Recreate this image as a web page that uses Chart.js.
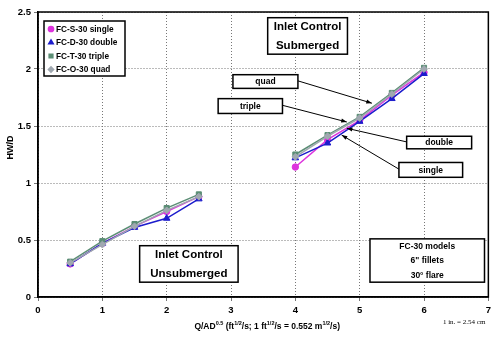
<!DOCTYPE html>
<html>
<head>
<meta charset="utf-8">
<script src="https://cdn.jsdelivr.net/npm/chart.js@4.4.1/dist/chart.umd.min.js"></script>
<style>
  html, body { margin: 0; padding: 0; background: #fff; }
  #wrap { width: 495px; height: 339px; }
</style>
</head>
<body>
<div id="wrap"><canvas id="myChart" width="495" height="339"></canvas></div>
<script>
// Q/AD^0.5 values, x=3 is only a gap between the two groups
var qValues = [0.5, 1, 1.5, 2, 2.5, 3, 4, 4.5, 5, 5.5, 6];
var singleHW = [0.29, 0.47, 0.62, 0.75, 0.88, null, 1.14, 1.38, 1.55, 1.77, 1.97];
var doubleHW = [0.29, 0.47, 0.61, 0.69, 0.86, null, 1.22, 1.35, 1.54, 1.74, 1.96];
var tripleHW = [0.31, 0.49, 0.64, 0.78, 0.90, null, 1.25, 1.42, 1.58, 1.79, 2.01];
var quadHW = [0.30, 0.46, 0.62, 0.76, 0.88, null, 1.23, 1.41, 1.57, 1.78, 2.00];
var seriesNames = ["FC-S-30 single", "FC-D-30 double", "FC-T-30 triple", "FC-O-30 quad"];
var xTicks = [0, 1, 2, 3, 4, 5, 6, 7];
var yTicks = [0, 0.5, 1, 1.5, 2, 2.5];

var FONT = "'Liberation Sans', Arial, sans-serif";

function pts(ys) {
    return qValues.map(function(q, i) { return {x: q, y: ys[i]}; });
}

var styles = [
    {color: "#dd33dd", point: "circle", radius: 3.2},
    {color: "#1c1ccc", point: "triangle", radius: 3.8},
    {color: "#5b8e75", point: "rect", radius: 3.6},
    {color: "#a0a8b0", point: "rectRot", radius: 3.4}
];
var allSeries = [singleHW, doubleHW, tripleHW, quadHW];
var drawOrder = [3, 2, 1, 0];

// annotation boxes, in data units
var textBoxes = [
    {x1: 3.57, x2: 4.81, y1: 2.45, y2: 2.13, lines: ["Inlet Control", "Submerged"], size: 11.5},
    {x1: 1.58, x2: 3.11, y1: 0.45, y2: 0.13, lines: ["Inlet Control", "Unsubmerged"], size: 11.5},
    {x1: 5.16, x2: 6.94, y1: 0.51, y2: 0.13, lines: ["FC-30 models", "6\" fillets", "30\u00b0 flare"], size: 8.5}
];
var labelBoxes = [
    {x1: 3.03, x2: 4.04, y1: 1.95, y2: 1.83, text: "quad", side: "right", tx: 5.19, ty: 1.70},
    {x1: 2.80, x2: 3.80, y1: 1.74, y2: 1.61, text: "triple", side: "right", tx: 4.80, ty: 1.535},
    {x1: 5.73, x2: 6.74, y1: 1.41, y2: 1.30, text: "double", side: "left", tx: 4.80, ty: 1.48},
    {x1: 5.61, x2: 6.60, y1: 1.18, y2: 1.05, text: "single", side: "left", tx: 4.72, ty: 1.42}
];

function arrow(ctx, x0, y0, x1, y1) {
    ctx.beginPath();
    ctx.moveTo(x0, y0);
    ctx.lineTo(x1, y1);
    ctx.stroke();
    var a = Math.atan2(y1 - y0, x1 - x0);
    ctx.beginPath();
    ctx.moveTo(x1, y1);
    ctx.lineTo(x1 - 6 * Math.cos(a - 0.35), y1 - 6 * Math.sin(a - 0.35));
    ctx.lineTo(x1 - 6 * Math.cos(a + 0.35), y1 - 6 * Math.sin(a + 0.35));
    ctx.closePath();
    ctx.fill();
}

var decor = {
    id: "decor",
    afterDatasetsDraw: function(chart) {
        var ctx = chart.ctx, a = chart.chartArea;
        var xs = chart.scales.x, ys = chart.scales.y;
        ctx.save();
        // plot frame
        ctx.strokeStyle = "#000";
        ctx.lineWidth = 1.5;
        ctx.strokeRect(a.left, a.top, a.right - a.left, a.bottom - a.top);

        // big text boxes
        textBoxes.forEach(function(b) {
            var l = xs.getPixelForValue(b.x1), r = xs.getPixelForValue(b.x2);
            var t = ys.getPixelForValue(b.y1), bt = ys.getPixelForValue(b.y2);
            ctx.fillStyle = "#fff";
            ctx.fillRect(l, t, r - l, bt - t);
            ctx.lineWidth = 1.5;
            ctx.strokeStyle = "#000";
            ctx.strokeRect(l, t, r - l, bt - t);
            ctx.fillStyle = "#000";
            ctx.font = "bold " + b.size + "px " + FONT;
            ctx.textAlign = "center";
            ctx.textBaseline = "middle";
            var lh = (bt - t) / b.lines.length;
            b.lines.forEach(function(s, i) {
                ctx.fillText(s, (l + r) / 2, t + lh * (i + 0.5) + 0.5);
            });
        });

        // leader labels with arrows
        labelBoxes.forEach(function(b) {
            var l = xs.getPixelForValue(b.x1), r = xs.getPixelForValue(b.x2);
            var t = ys.getPixelForValue(b.y1), bt = ys.getPixelForValue(b.y2);
            var sx = b.side === "right" ? r : l;
            var sy = t + (bt - t) * 0.45;
            ctx.strokeStyle = "#000";
            ctx.fillStyle = "#000";
            ctx.lineWidth = 1;
            arrow(ctx, sx, sy, xs.getPixelForValue(b.tx), ys.getPixelForValue(b.ty));
            ctx.fillStyle = "#fff";
            ctx.fillRect(l, t, r - l, bt - t);
            ctx.lineWidth = 1.5;
            ctx.strokeRect(l, t, r - l, bt - t);
            ctx.fillStyle = "#000";
            ctx.font = "bold 8.5px " + FONT;
            ctx.textAlign = "center";
            ctx.textBaseline = "middle";
            ctx.fillText(b.text, (l + r) / 2, (t + bt) / 2 + 0.5);
        });

        // legend box
        var lx = a.left + 6, ly = a.top + 9, lw = 81, lhgt = 55;
        ctx.fillStyle = "#fff";
        ctx.fillRect(lx, ly, lw, lhgt);
        ctx.lineWidth = 1.5;
        ctx.strokeStyle = "#000";
        ctx.strokeRect(lx, ly, lw, lhgt);
        ctx.font = "bold 8.3px " + FONT;
        ctx.textAlign = "left";
        ctx.textBaseline = "middle";
        seriesNames.forEach(function(name, i) {
            var yy = ly + 8 + i * 13.5;
            ctx.fillStyle = styles[i].color;
            ctx.strokeStyle = styles[i].color;
            Chart.helpers.drawPoint(ctx, {pointStyle: styles[i].point, radius: 2.6, borderWidth: 1, rotation: 0}, lx + 7, yy);
            ctx.fillStyle = "#000";
            ctx.fillText(name, lx + 12, yy + 0.5);
        });

        // y axis title
        ctx.save();
        ctx.translate(11, (a.top + a.bottom) / 2 - 7);
        ctx.rotate(-Math.PI / 2);
        ctx.font = "bold 9px " + FONT;
        ctx.textAlign = "center";
        ctx.textBaseline = "middle";
        ctx.fillStyle = "#000";
        ctx.fillText("HW/D", 0, 0);
        ctx.restore();

        // x axis title with superscripts
        var parts = [
            ["Q/AD", 0], ["0.5", 1], [" (ft", 0], ["1/2", 1], ["/s; 1 ft", 0], ["1/2", 1],
            ["/s = 0.552 m", 0], ["1/2", 1], ["/s)", 0]
        ];
        var mainF = "bold 8.5px " + FONT, supF = "bold 5.5px " + FONT;
        var total = 0;
        parts.forEach(function(p) {
            ctx.font = p[1] ? supF : mainF;
            total += ctx.measureText(p[0]).width;
        });
        var cx = (a.left + a.right) / 2 - total / 2 + 4, by = 329;
        ctx.textAlign = "left";
        ctx.textBaseline = "alphabetic";
        ctx.fillStyle = "#000";
        parts.forEach(function(p) {
            ctx.font = p[1] ? supF : mainF;
            ctx.fillText(p[0], cx, p[1] ? by - 4 : by);
            cx += ctx.measureText(p[0]).width;
        });

        // unit note
        ctx.font = "7px 'Liberation Serif', 'Times New Roman', serif";
        ctx.textAlign = "right";
        ctx.fillText("1 in. = 2.54 cm", a.right - 3, 324);
        ctx.restore();
    }
};

var config = {
    type: "line",
    data: {
        datasets: allSeries.map(function(ys, i) {
            return {
                label: seriesNames[i],
                data: pts(ys),
                borderColor: styles[i].color,
                backgroundColor: styles[i].color,
                pointStyle: styles[i].point,
                pointRadius: styles[i].radius,
                pointBorderWidth: 1,
                borderWidth: 1.5,
                spanGaps: false,
                tension: 0,
                order: drawOrder[i]
            };
        })
    },
    options: {
        responsive: false,
        animation: false,
        layout: {padding: {top: 12, right: 6, left: 0, bottom: 0}},
        plugins: {
            legend: {display: false},
            tooltip: {enabled: false}
        },
        scales: {
            x: {
                type: "linear",
                min: 0, max: 7,
                afterBuildTicks: function(s) { s.ticks = xTicks.map(function(v) { return {value: v}; }); },
                afterFit: function(s) { s.height = 42; },
                grid: {color: "#777", lineWidth: 1, tickLength: 4, drawOnChartArea: true},
                border: {display: true, color: "#000", width: 1.5, dash: [1, 2]},
                ticks: {color: "#000", font: {family: FONT, size: 9.5, weight: "bold"}, padding: 4, maxRotation: 0,
                    callback: function(v) { return String(v); }}
            },
            y: {
                min: 0, max: 2.5,
                afterBuildTicks: function(s) { s.ticks = yTicks.map(function(v) { return {value: v}; }); },
                afterFit: function(s) { s.width = 38; },
                grid: {color: "#777", lineWidth: 1, tickLength: 4},
                border: {display: true, color: "#000", width: 1.5, dash: [1, 2]},
                ticks: {color: "#000", font: {family: FONT, size: 9.5, weight: "bold"}, padding: 3,
                    callback: function(v) { return String(v); }}
            }
        }
    },
    plugins: [decor]
};

var ctx = document.getElementById("myChart").getContext("2d");
window.myLine = new Chart(ctx, config);
</script>
</body>
</html>
